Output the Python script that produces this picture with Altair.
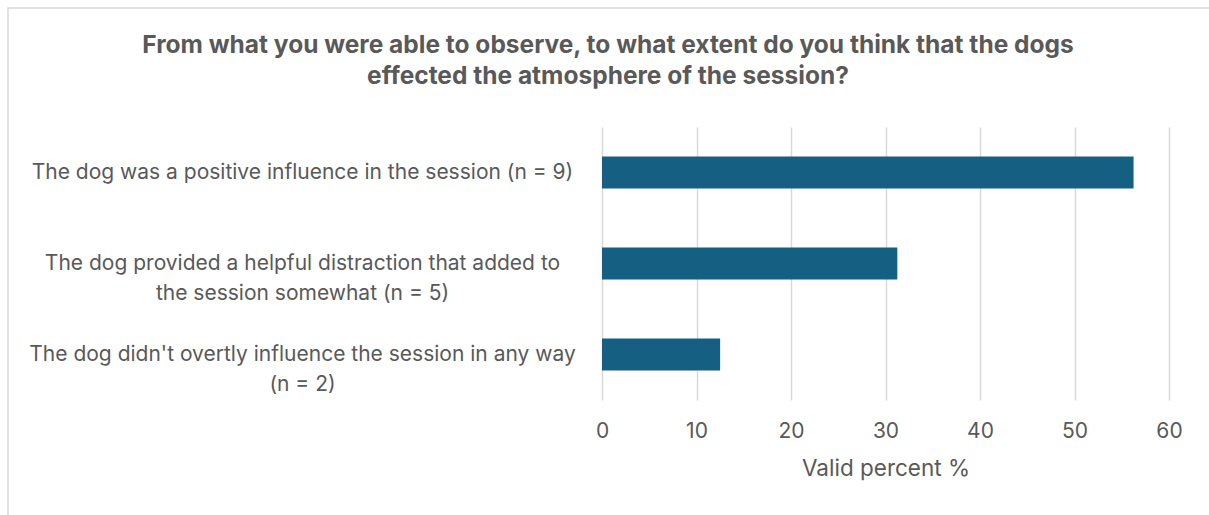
import altair as alt
import pandas as pd

# Survey responses (line breaks marked with "|") and their valid percentages
responses = [
    "The dog was a positive influence in the session  (n = 9)",
    "The dog provided a helpful distraction that added to|the session somewhat (n = 5)",
    "The dog didn't overtly influence the session in any way|(n = 2)",
]
valid_percent = [56.25, 31.25, 12.5]
x_ticks = [0, 10, 20, 30, 40, 50, 60]

title_lines = [
    "From what you were able to observe, to what extent do you think that the dogs",
    "effected the atmosphere of the session?",
]

TEXT = "#595959"
GRID = "#d9d9d9"
BAR = "#156082"
FONT = "Inter"

df = pd.DataFrame({"response": responses, "pct": valid_percent})

bars = alt.Chart(df).mark_bar(color=BAR).encode(
    x=alt.X(
        "pct:Q",
        title="Valid percent %",
        scale=alt.Scale(domain=[0, 60], nice=False),
        axis=alt.Axis(
            values=x_ticks,
            grid=True,
            gridColor=GRID,
            gridWidth=1.5,
            domain=False,
            ticks=False,
            labelFlush=False,
            labelPadding=20,
            labelFontSize=21,
            labelColor=TEXT,
            labelFont=FONT,
            titleFontSize=22.5,
            titleFontWeight="normal",
            titleColor=TEXT,
            titleFont=FONT,
            titlePadding=16,
        ),
    ),
    y=alt.Y(
        "response:N",
        sort=None,
        title=None,
        scale=alt.Scale(paddingInner=0.65, paddingOuter=0.325),
        axis=alt.Axis(
            domain=False,
            ticks=False,
            grid=False,
            labelExpr="split(datum.label, '|')",
            labelAlign="center",
            labelBaseline="middle",
            labelPadding=300,
            labelLineHeight=30,
            labelFontSize=21,
            labelColor=TEXT,
            labelFont=FONT,
            labelLimit=0,
        ),
    ),
)

# Two-line heading, centred over the whole chart
heading_df = pd.DataFrame({"line": title_lines, "row": [0, 1]})
heading = alt.Chart(heading_df).mark_text(
    font=FONT, fontSize=24.5, fontWeight="bold", color=TEXT,
    align="center", baseline="alphabetic",
).encode(
    text="line:N",
    x=alt.value(6),
    y=alt.Y("row:Q", axis=None, scale=alt.Scale(domain=[0, 1], range=[-74, -43])),
)

# Light outline around the chart area
frame = alt.Chart(df.head(1)).mark_rect(
    fillOpacity=0, stroke=GRID, strokeWidth=1.5
).encode(
    x=alt.value(-594), x2=alt.value(620), y=alt.value(-119), y2=alt.value(420)
)

chart = (
    alt.layer(frame, bars, heading)
    .resolve_scale(y="independent")
    .properties(
        width=567,
        height=273,
        padding={"left": 602, "top": 127, "right": 40, "bottom": 115},
        autosize=alt.AutoSizeParams(type="none"),
    )
    .configure(background="white", view=alt.ViewConfig(stroke="transparent", strokeWidth=0))
)

chart.save("out.html", embed_options={"renderer": "svg", "actions": False})
